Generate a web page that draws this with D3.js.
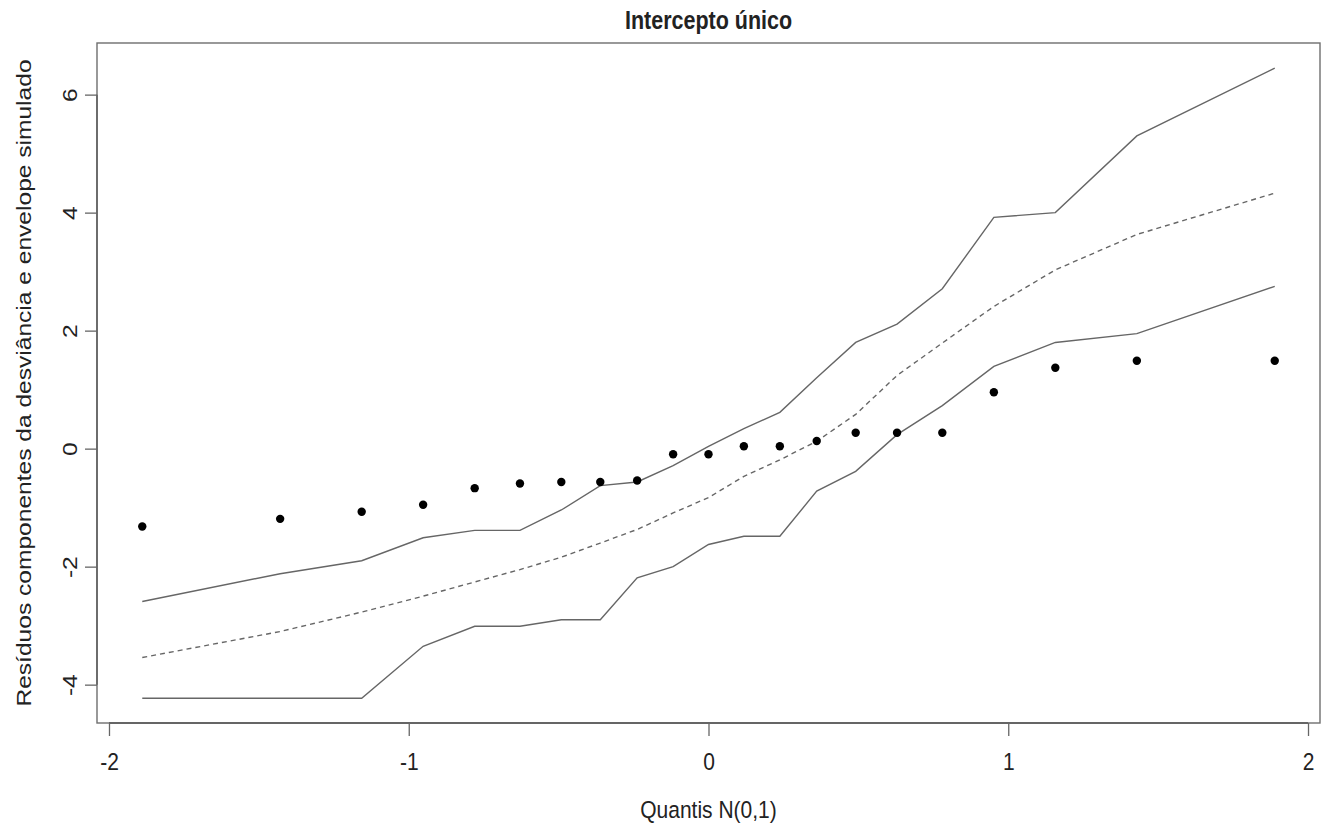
<!DOCTYPE html>
<html>
<head>
<meta charset="utf-8">
<script src="https://cdn.jsdelivr.net/npm/d3@7"></script>
<style>
  body { margin: 0; background: #fff; }
  svg text { font-family: "Liberation Sans", Arial, sans-serif; fill: #222; }
</style>
</head>
<body>
<svg id="chart" width="1324" height="827"></svg>
<script>
// theoretical N(0,1) quantiles (n = 21)
const quantis = [-1.889, -1.429, -1.157, -0.952, -0.780, -0.629, -0.491, -0.361, -0.238, -0.118, 0,
  0.118, 0.238, 0.361, 0.491, 0.629, 0.780, 0.952, 1.157, 1.429, 1.889];
// observed deviance residuals (sorted)
const residuos = [-1.32, -1.19, -1.07, -0.95, -0.67, -0.59, -0.565, -0.565, -0.54, -0.096, -0.096,
  0.04, 0.04, 0.13, 0.27, 0.27, 0.27, 0.955, 1.37, 1.49, 1.49];
// simulated envelope
const envInf = [-4.23, -4.23, -4.23, -3.35, -3.01, -3.01, -2.90, -2.90, -2.19, -2.00, -1.625,
  -1.486, -1.486, -0.72, -0.385, 0.237, 0.73, 1.395, 1.80, 1.95, 2.75];
const envMed = [-3.54, -3.10, -2.77, -2.50, -2.26, -2.05, -1.84, -1.60, -1.37, -1.09, -0.83,
  -0.47, -0.19, 0.125, 0.58, 1.24, 1.79, 2.41, 3.03, 3.63, 4.33];
const envSup = [-2.59, -2.12, -1.90, -1.51, -1.385, -1.385, -1.04, -0.627, -0.565, -0.288, 0.04,
  0.34, 0.615, 1.2, 1.80, 2.11, 2.71, 3.92, 4.00, 5.30, 6.45];
const xTicks = [-2, -1, 0, 1, 2];
const yTicks = [-4, -2, 0, 2, 4, 6];

const margin = { top: 43, right: 4, bottom: 104, left: 97 };
const W = 1324, H = 827;
const stretch = 1.17; // the source picture is stretched vertically

const svg = d3.select("#chart");

const x = d3.scaleLinear().domain([-2.04, 2.04]).range([margin.left, W - margin.right]);
const y = d3.scaleLinear().domain([-4.65, 6.875]).range([H - margin.bottom, margin.top]);

// plot box
svg.append("rect")
  .attr("x", x.range()[0]).attr("y", y.range()[1])
  .attr("width", x.range()[1] - x.range()[0])
  .attr("height", y.range()[0] - y.range()[1])
  .attr("fill", "none").attr("stroke", "#6e6e6e").attr("stroke-width", 1.4);

// axes, R style (plain hyphen for negatives)
const fmt = d => String(d);
const xAxis = svg.append("g")
  .attr("transform", `translate(0,${y.range()[0]})`)
  .call(d3.axisBottom(x).tickValues(xTicks).tickSize(13).tickFormat(fmt));
const yAxis = svg.append("g")
  .attr("transform", `translate(${x.range()[0]},0)`)
  .call(d3.axisLeft(y).tickValues(yTicks).tickSize(12).tickFormat(fmt));

[xAxis, yAxis].forEach(g => {
  g.selectAll("path").attr("stroke", "#555").attr("stroke-width", 1.3);
  g.selectAll("line").attr("stroke", "#666").attr("stroke-width", 1.3);
  g.selectAll("text").attr("font-size", 21).attr("fill", "#222")
    .attr("font-family", "Liberation Sans, Arial, sans-serif");
});
xAxis.select(".domain").attr("d", `M${x(-2)},0H${x(2)}`);
yAxis.select(".domain").attr("d", `M0,${y(-4)}V${y(6)}`);
xAxis.selectAll(".tick text")
  .attr("y", 0).attr("dy", null)
  .attr("transform", `translate(0,47) scale(1,${stretch})`);
yAxis.selectAll(".tick text")
  .attr("x", 0).attr("dy", null)
  .attr("text-anchor", "middle")
  .attr("transform", `translate(-20,0) rotate(-90) scale(${stretch},1)`);

// envelope lines
const line = d3.line().x((d, i) => x(quantis[i])).y(d => y(d));
[envInf, envSup].forEach(s => {
  svg.append("path").datum(s).attr("d", line)
    .attr("fill", "none").attr("stroke", "#666").attr("stroke-width", 1.4);
});
svg.append("path").datum(envMed).attr("d", line)
  .attr("fill", "none").attr("stroke", "#666").attr("stroke-width", 1.4)
  .attr("stroke-dasharray", "5,4");

// residual points
svg.append("g").selectAll("circle")
  .data(residuos)
  .join("circle")
  .attr("cx", (d, i) => x(quantis[i]))
  .attr("cy", d => y(d))
  .attr("r", 4.2)
  .attr("fill", "#000");

// titles
const cx = (x.range()[0] + x.range()[1]) / 2;
svg.append("text")
  .attr("transform", `translate(${cx},29) scale(1,${stretch})`)
  .attr("text-anchor", "middle").attr("font-size", 21.5).attr("font-weight", "bold")
  .text("Intercepto único");
svg.append("text")
  .attr("transform", `translate(${cx},818) scale(1,${stretch})`)
  .attr("text-anchor", "middle").attr("font-size", 21)
  .text("Quantis N(0,1)");
svg.append("text")
  .attr("transform", `translate(31,${(y.range()[0] + y.range()[1]) / 2}) rotate(-90) scale(${stretch},1)`)
  .attr("text-anchor", "middle").attr("font-size", 21)
  .text("Resíduos componentes da desviância e envelope simulado");
</script>
</body>
</html>
